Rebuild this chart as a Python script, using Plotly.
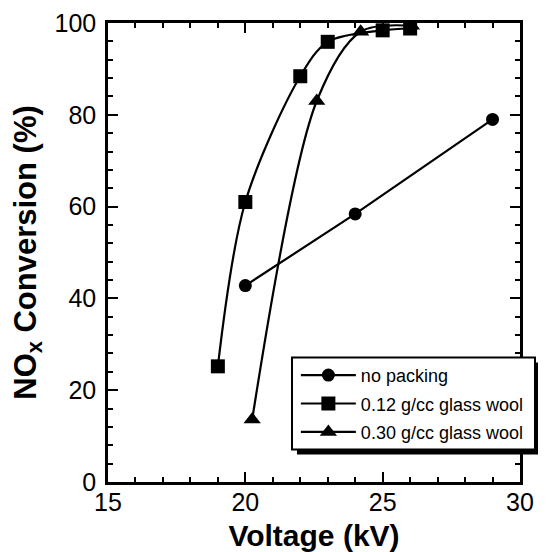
import plotly.graph_objects as go

# Data
np_x = [20, 24, 29]
np_y = [42.8, 58.4, 79.0]

g12_x = [19, 20, 22, 23, 25, 26]
g12_y = [25.2, 61.0, 88.4, 95.9, 98.4, 98.8]

g30_x = [20.25, 22.6, 24.2, 26.05]
g30_y = [13.6, 83.0, 98.1, 99.4]

names = ["no packing", "0.12 g/cc glass wool", "0.30 g/cc glass wool"]

x_ticks = [15, 20, 25, 30]
y_ticks = [0, 20, 40, 60, 80, 100]

FONT = "Arial, Liberation Sans, Helvetica, sans-serif"

fig = go.Figure()
fig.add_trace(go.Scatter(x=np_x, y=np_y, mode="lines+markers", name=names[0],
                         legendgroup="a",
                         line=dict(color="black", width=2.2),
                         marker=dict(symbol="circle", size=13, color="black")))
fig.add_trace(go.Scatter(x=g12_x, y=g12_y, mode="lines+markers", name=names[1],
                         legendgroup="b",
                         line=dict(color="black", width=2.2, shape="spline", smoothing=0.9),
                         marker=dict(symbol="square", size=14, color="black")))
fig.add_trace(go.Scatter(x=g30_x, y=g30_y, mode="lines+markers", name=names[2],
                         legendgroup="c",
                         line=dict(color="black", width=2.2, shape="spline", smoothing=0.9),
                         marker=dict(symbol="triangle-up", size=15, color="black")))

axis_common = dict(
    showline=True, linecolor="black", linewidth=2.5, mirror="ticks",
    ticks="inside", ticklen=10, tickwidth=2, tickcolor="black",
    showgrid=False, zeroline=False, automargin=False,
    tickfont=dict(family=FONT, size=25, color="black"),
)

fig.update_xaxes(range=[15, 30], tickvals=x_ticks, ticklabelstandoff=-4,
                 minor=dict(dtick=1, ticks="inside", ticklen=5, tickwidth=2, tickcolor="black"),
                 title=dict(text="Voltage (kV)", standoff=18,
                            font=dict(family=FONT, size=30, color="black", weight="bold")),
                 **axis_common)
fig.update_yaxes(range=[0, 100], tickvals=y_ticks, ticklabelstandoff=4,
                 minor=dict(dtick=4, ticks="inside", ticklen=5, tickwidth=2, tickcolor="black"),
                 title=dict(text="NO<sub>x</sub> Conversion (%)", standoff=14,
                            font=dict(family=FONT, size=31, color="black", weight="bold")),
                 **axis_common)

# legend frame with drop shadow
bx0, bx1, by0, by1 = 0.4466, 1.0364, 0.071, 0.2715
dx, dy = 0.0121, 0.0109
fig.add_shape(type="rect", xref="paper", yref="paper", layer="above",
              x0=bx0 + dx, x1=bx1 + dx, y0=by0 - dy, y1=by1 - dy,
              fillcolor="black", line=dict(width=0))
fig.add_shape(type="rect", xref="paper", yref="paper", layer="above",
              x0=bx0, x1=bx1, y0=by0, y1=by1,
              fillcolor="white", line=dict(color="black", width=2))

fig.update_layout(
    width=538, height=544,
    margin=dict(l=100, r=26, t=15, b=70, autoexpand=False),
    plot_bgcolor="white", paper_bgcolor="white",
    showlegend=True,
    legend=dict(x=0.456, y=0.2725, xanchor="left", yanchor="top",
                bgcolor="rgba(0,0,0,0)", borderwidth=0,
                font=dict(family=FONT, size=18, color="black"),
                itemwidth=55, tracegroupgap=2),
)

fig.write_html("out.html")
